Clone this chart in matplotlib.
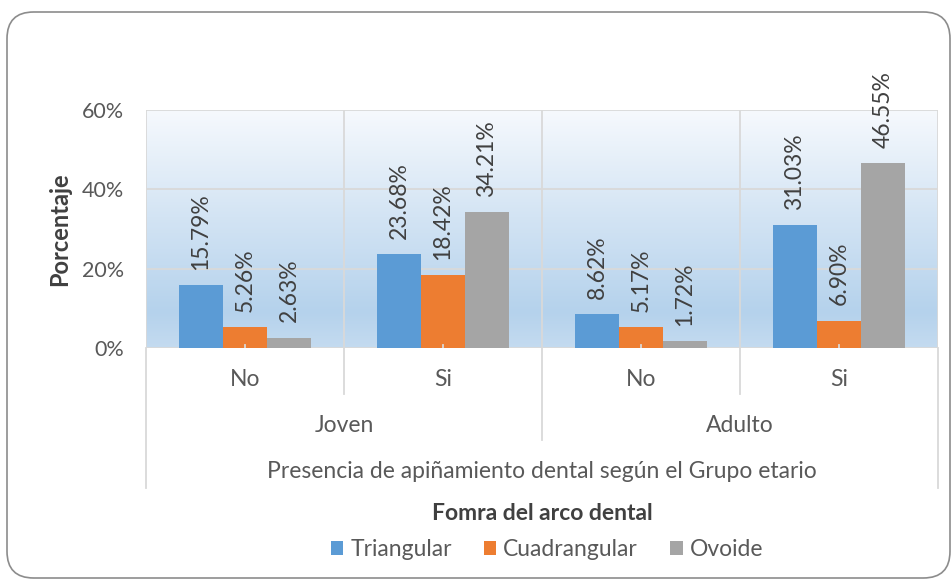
import matplotlib
matplotlib.use("Agg")
import matplotlib.pyplot as plt
import matplotlib.transforms as mtransforms
from matplotlib.patches import FancyBboxPatch, Patch
from matplotlib.lines import Line2D
from matplotlib.colors import LinearSegmentedColormap
import numpy as np

# ---- data ----
outer_groups = ["Joven", "Adulto"]
inner_labels = ["No", "Si", "No", "Si"]
series_names = ["Triangular", "Cuadrangular", "Ovoide"]
triangular = [15.79, 23.68, 8.62, 31.03]
cuadrangular = [5.26, 18.42, 5.17, 6.90]
ovoide = [2.63, 34.21, 1.72, 46.55]
y_ticks = [0, 20, 40, 60]
y_tick_labels = ["0%", "20%", "40%", "60%"]
x_axis_title = "Presencia de apiñamiento dental según el Grupo etario"
y_axis_title = "Porcentaje"
legend_title = "Fomra del arco dental"

colors = ["#5b9bd5", "#ed7d31", "#a5a5a5"]
FONT = "Lato"
plt.rcParams["font.family"] = [FONT, "DejaVu Sans"]
TXT = "#595959"
FS = 16.5

W, H = 952, 581
fig = plt.figure(figsize=(W / 100, H / 100), dpi=100)
fig.patch.set_facecolor("white")

def fx(px):
    return px / W

def fy(py):
    return 1 - py / H

# rounded outer border
border = FancyBboxPatch((fx(7), fy(578)), fx(943), (578 - 12) / H,
                        boxstyle="round,pad=0,rounding_size=0.028",
                        transform=fig.transFigure, facecolor="none",
                        edgecolor="#8c8c8c", linewidth=1.2, mutation_aspect=W / H)
fig.add_artist(border)

left, right, top, bottom = 146, 938, 110, 348
ax = fig.add_axes([fx(left), fy(bottom), fx(right - left), (bottom - top) / H])
n = len(inner_labels)

# gradient background (light at top, blue toward bottom)
grad = np.linspace(0, 1, 256).reshape(-1, 1)
cmap = LinearSegmentedColormap.from_list(
    "bg", [(0, "#f6f9fd"), (0.45, "#d3e4f4"), (0.85, "#b5d2ec"), (1, "#c4dbf0")])
ax.imshow(grad, extent=[0, n, 0, 60], aspect="auto", cmap=cmap, zorder=0, origin="upper")
ax.set_xlim(0, n)
ax.set_ylim(0, 60)

# grid
for yv in y_ticks:
    ax.axhline(yv, color="#d9d9d9", lw=1.3, zorder=1)
for xv in range(0, n + 1):
    ax.axvline(xv, color="#d9d9d9", lw=1.3, zorder=1)

bw = 1 / 4.5
x = np.arange(n) + 0.5
for i, (vals, c) in enumerate(zip([triangular, cuadrangular, ovoide], colors)):
    xs = x + (i - 1) * bw
    ax.bar(xs, vals, width=bw, color=c, zorder=2, edgecolor="none")
    for xi, v in zip(xs, vals):
        ax.annotate(f"{v:.2f}%", (xi, v), xytext=(0, 11), textcoords="offset points",
                    rotation=90, ha="center", va="bottom", fontsize=FS, color="#404040",
                    annotation_clip=False)

# small tick marks at category centres
for xi in x:
    ax.plot([xi, xi], [0, 0.8], color="#d9d9d9", lw=1.3, zorder=3)

for s in ax.spines.values():
    s.set_visible(False)
ax.set_xticks([])
ax.set_yticks(y_ticks)
ax.set_yticklabels(y_tick_labels, fontsize=15.5, color=TXT)
ax.tick_params(axis="y", length=0, pad=16)

# category table below axis
blend = mtransforms.blended_transform_factory(ax.transData, fig.transFigure)
def vline(xv, y0, y1):
    fig.add_artist(Line2D([xv, xv], [fy(y0), fy(y1)], transform=blend, color="#d9d9d9", lw=1.3))

for xv, yend in [(0, 488), (1, 394), (2, 440), (3, 394), (4, 488)]:
    vline(xv, bottom, yend)

for xi, lab in zip(x, inner_labels):
    ax.text(xi, fy(379), lab, transform=blend, ha="center", va="center", fontsize=FS, color=TXT)
for gi, g in enumerate(outer_groups):
    ax.text(gi * 2 + 1, fy(426), g, transform=blend, ha="center", va="center", fontsize=FS, color=TXT)
ax.text(2, fy(472), x_axis_title, transform=blend, ha="center", va="center", fontsize=FS, color=TXT)

fig.text(fx(60), fy(229), y_axis_title, rotation=90, ha="center", va="center",
         fontsize=17, fontweight="bold", color="#404040")
fig.text(fx(542), fy(514), legend_title, ha="center", va="center",
         fontsize=16.5, fontweight="bold", color="#404040")

handles = [Patch(facecolor=c, edgecolor="none") for c in colors]
leg = fig.legend(handles, series_names, loc="center", bbox_to_anchor=(fx(547), fy(550)),
                 ncol=3, frameon=False, fontsize=FS, handlelength=0.55, handleheight=0.55,
                 handletextpad=0.3, columnspacing=1.4, labelcolor=TXT)

fig.savefig("out.png", dpi=100, facecolor="white")
